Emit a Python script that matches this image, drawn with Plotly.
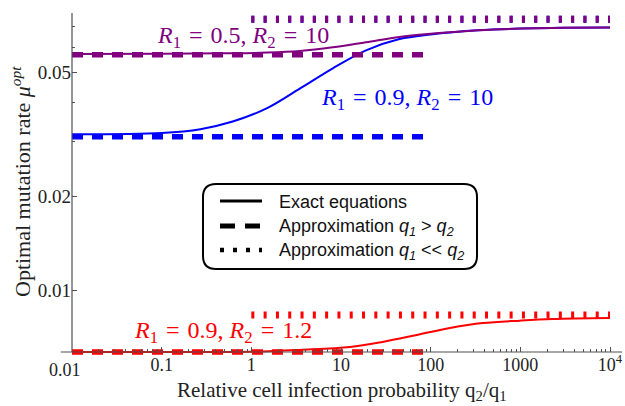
import plotly.graph_objects as go

# ---------------- data ----------------
# exact curves (q2/q1 -> optimal mutation rate)
purple_q = [0.01, 0.1, 0.5, 1.5, 3.5, 8.1, 19, 45, 100, 200, 500, 1000, 3000, 10000]
purple_mu = [0.0571, 0.0572, 0.0574, 0.0577, 0.0584, 0.0600, 0.0623, 0.0648, 0.0663,
             0.0673, 0.0684, 0.0689, 0.0693, 0.0695]

blue_q = [0.01, 0.1, 0.27, 0.62, 1.5, 3.5, 8.1, 19, 45, 100, 200, 500, 1000, 3000, 10000]
blue_mu = [0.0316, 0.0319, 0.0328, 0.0347, 0.0383, 0.0443, 0.0514, 0.0587, 0.0638,
           0.0660, 0.0673, 0.0684, 0.0689, 0.0693, 0.0695]

red_q = [0.01, 0.1, 1, 3.5, 12.6, 29, 70, 164, 382, 1000, 2300, 10000]
red_mu = [0.00633, 0.00633, 0.00634, 0.00643, 0.00657, 0.00682, 0.00718, 0.00756,
          0.00784, 0.00798, 0.00807, 0.00813]

# approximations
dash_q = [0.01, 100]          # q1 > q2 approximation range
dot_q = [1, 10000]            # q1 << q2 approximation range
purple_dash, blue_dash, red_dash = 0.0568, 0.0310, 0.00633
purple_dot, blue_dot, red_dot = 0.0738, 0.0738, 0.00832

series_names = ["R1 = 0.5, R2 = 10", "R1 = 0.9, R2 = 10", "R1 = 0.9, R2 = 1.2"]
SP = "\u2004"
series_labels = [
    f"<i>R</i><sub>1</sub>{SP}={SP}0.5, <i>R</i><sub>2</sub>{SP}={SP}10",
    f"<i>R</i><sub>1</sub>{SP}={SP}0.9, <i>R</i><sub>2</sub>{SP}={SP}10",
    f"<i>R</i><sub>1</sub>{SP}={SP}0.9, <i>R</i><sub>2</sub>{SP}={SP}1.2",
]
legend_labels = [
    "Exact equations",
    "Approximation <i>q<sub>1</sub></i> > <i>q<sub>2</sub></i>",
    "Approximation <i>q<sub>1</sub></i> << <i>q<sub>2</sub></i>",
]

x_tickvals = [0.01, 0.1, 1, 10, 100, 1000, 10000]
x_ticktext = ["", "0.1", "1", "10", "100", "1000", "10<sup>4</sup>"]
x_first_label = "0.01"
y_tickvals = [0.01, 0.02, 0.05]
y_ticktext = ["0.01", "0.02", "0.05"]
y_minor = [0.03, 0.04, 0.06, 0.07]
x_minor = [k * 10 ** d for d in range(-2, 4) for k in range(2, 10)]

x_title = "Relative cell infection probability q<sub>2</sub>/q<sub>1</sub>"
y_title = "Optimal mutation rate <i>\u03bc</i><sup><i>opt</i></sup>"

# ---------------- styling ----------------
W, H = 625, 406
ML, MR, MT, MB = 72, 3, 13, 50
PW, PH = W - ML - MR, H - MT - MB
SERIF = "Liberation Serif"
SANS = "Liberation Sans"
AX = "#505050"
PURPLE, BLUE, RED = "rgb(128,0,128)", "rgb(0,0,255)", "rgb(255,0,0)"
DASH = "11px,9px"
DOT = "3px,9.3px"


def px(x):
    return (x - ML) / PW


def py(y):
    return (H - MB - y) / PH


axis_pos = py(352)

fig = go.Figure()

groups = [
    (RED, red_q, red_mu, red_dash, red_dot),
    (BLUE, blue_q, blue_mu, blue_dash, blue_dot),
    (PURPLE, purple_q, purple_mu, purple_dash, purple_dot),
]
for name, (col, q, mu, dval, tval) in zip(series_names[::-1], groups):
    fig.add_trace(go.Scatter(x=dash_q, y=[dval, dval], mode="lines", name=name,
                             line=dict(color=col, width=5.5, dash=DASH), showlegend=False))
    fig.add_trace(go.Scatter(x=dot_q, y=[tval, tval], mode="lines", name=name,
                             line=dict(color=col, width=7, dash=DOT), showlegend=False))
    fig.add_trace(go.Scatter(x=q, y=mu, mode="lines", name=name, line_shape="spline",
                             line=dict(color=col, width=2), showlegend=False))

fig.update_layout(
    width=W, height=H, margin=dict(l=ML, r=MR, t=MT, b=MB),
    paper_bgcolor="white", plot_bgcolor="white",
    showlegend=False,
    xaxis=dict(type="log", range=[-2, 4 + 12 / 89.67], anchor="free", position=axis_pos,
               showline=False, showgrid=False, zeroline=False,
               ticks="inside", ticklen=5, tickcolor=AX, tickwidth=1,
               tickvals=x_tickvals, ticktext=x_ticktext,
               tickfont=dict(family=SERIF, size=18, color="#222"),
               minor=dict(tickvals=x_minor, ticks="inside", ticklen=3, tickcolor=AX,
                          showgrid=False)),
    yaxis=dict(type="log", range=[-2.2114, -1.1118],
               showline=False, showgrid=False, zeroline=False,
               ticks="inside", ticklen=5, tickcolor=AX, tickwidth=1,
               tickvals=y_tickvals, ticktext=y_ticktext,
               tickfont=dict(family=SERIF, size=19, color="#222"),
               minor=dict(tickvals=y_minor, ticks="inside", ticklen=3, tickcolor=AX,
                          showgrid=False)),
)

shapes = []
# axis lines
shapes.append(dict(type="line", xref="paper", yref="paper", x0=px(60.7), x1=1,
                   y0=axis_pos, y1=axis_pos, line=dict(color=AX, width=1.2)))
shapes.append(dict(type="line", xref="paper", yref="paper", x0=0, x1=0,
                   y0=axis_pos, y1=1, line=dict(color=AX, width=1.2)))

# legend rounded box
bx0, bx1, by0, by1, r = 203, 477, 184, 269, 13
path = (f"M {px(bx0 + r)},{py(by0)} L {px(bx1 - r)},{py(by0)} "
        f"Q {px(bx1)},{py(by0)} {px(bx1)},{py(by0 + r)} "
        f"L {px(bx1)},{py(by1 - r)} Q {px(bx1)},{py(by1)} {px(bx1 - r)},{py(by1)} "
        f"L {px(bx0 + r)},{py(by1)} Q {px(bx0)},{py(by1)} {px(bx0)},{py(by1 - r)} "
        f"L {px(bx0)},{py(by0 + r)} Q {px(bx0)},{py(by0)} {px(bx0 + r)},{py(by0)} Z")
shapes.append(dict(type="path", xref="paper", yref="paper", path=path,
                   fillcolor="white", line=dict(color="black", width=2), layer="above"))
legend_rows = [201, 226, 250]
legend_styles = [dict(width=3, dash="solid"), dict(width=5, dash="15px,10px"),
                 dict(width=4.5, dash="4px,9px")]
for yy, st in zip(legend_rows, legend_styles):
    shapes.append(dict(type="line", xref="paper", yref="paper", x0=px(220), x1=px(262),
                       y0=py(yy), y1=py(yy), line=dict(color="black", **st), layer="above"))
fig.update_layout(shapes=shapes)

ann = []
for yy, txt in zip(legend_rows, legend_labels):
    ann.append(dict(xref="paper", yref="paper", x=px(277), y=py(yy + 1), text=txt,
                    showarrow=False, xanchor="left", yanchor="middle",
                    font=dict(family=SANS, size=18, color="#111")))
# series labels
label_pos = [(243, 37, PURPLE), (407, 99, BLUE), (223, 332, RED)]
for (lx, ly, col), txt in zip(label_pos, series_labels):
    ann.append(dict(xref="paper", yref="paper", x=px(lx), y=py(ly), text=txt,
                    showarrow=False, xanchor="center", yanchor="middle",
                    font=dict(family=SERIF, size=24, color=col)))
# first x tick label (offset left as in reference)
ann.append(dict(xref="paper", yref="paper", x=px(64.5), y=py(370), text=x_first_label,
                showarrow=False, xanchor="center", yanchor="middle",
                font=dict(family=SERIF, size=18, color="#222")))
# axis titles
ann.append(dict(xref="paper", yref="paper", x=px(342), y=py(391), text=x_title,
                showarrow=False, xanchor="center", yanchor="middle",
                font=dict(family=SERIF, size=21, color="#222")))
ann.append(dict(xref="paper", yref="paper", x=px(21), y=py(182), text=y_title,
                showarrow=False, xanchor="center", yanchor="middle", textangle=-90,
                font=dict(family=SERIF, size=22, color="#222")))
fig.update_layout(annotations=ann)

fig.write_html("out.html")
